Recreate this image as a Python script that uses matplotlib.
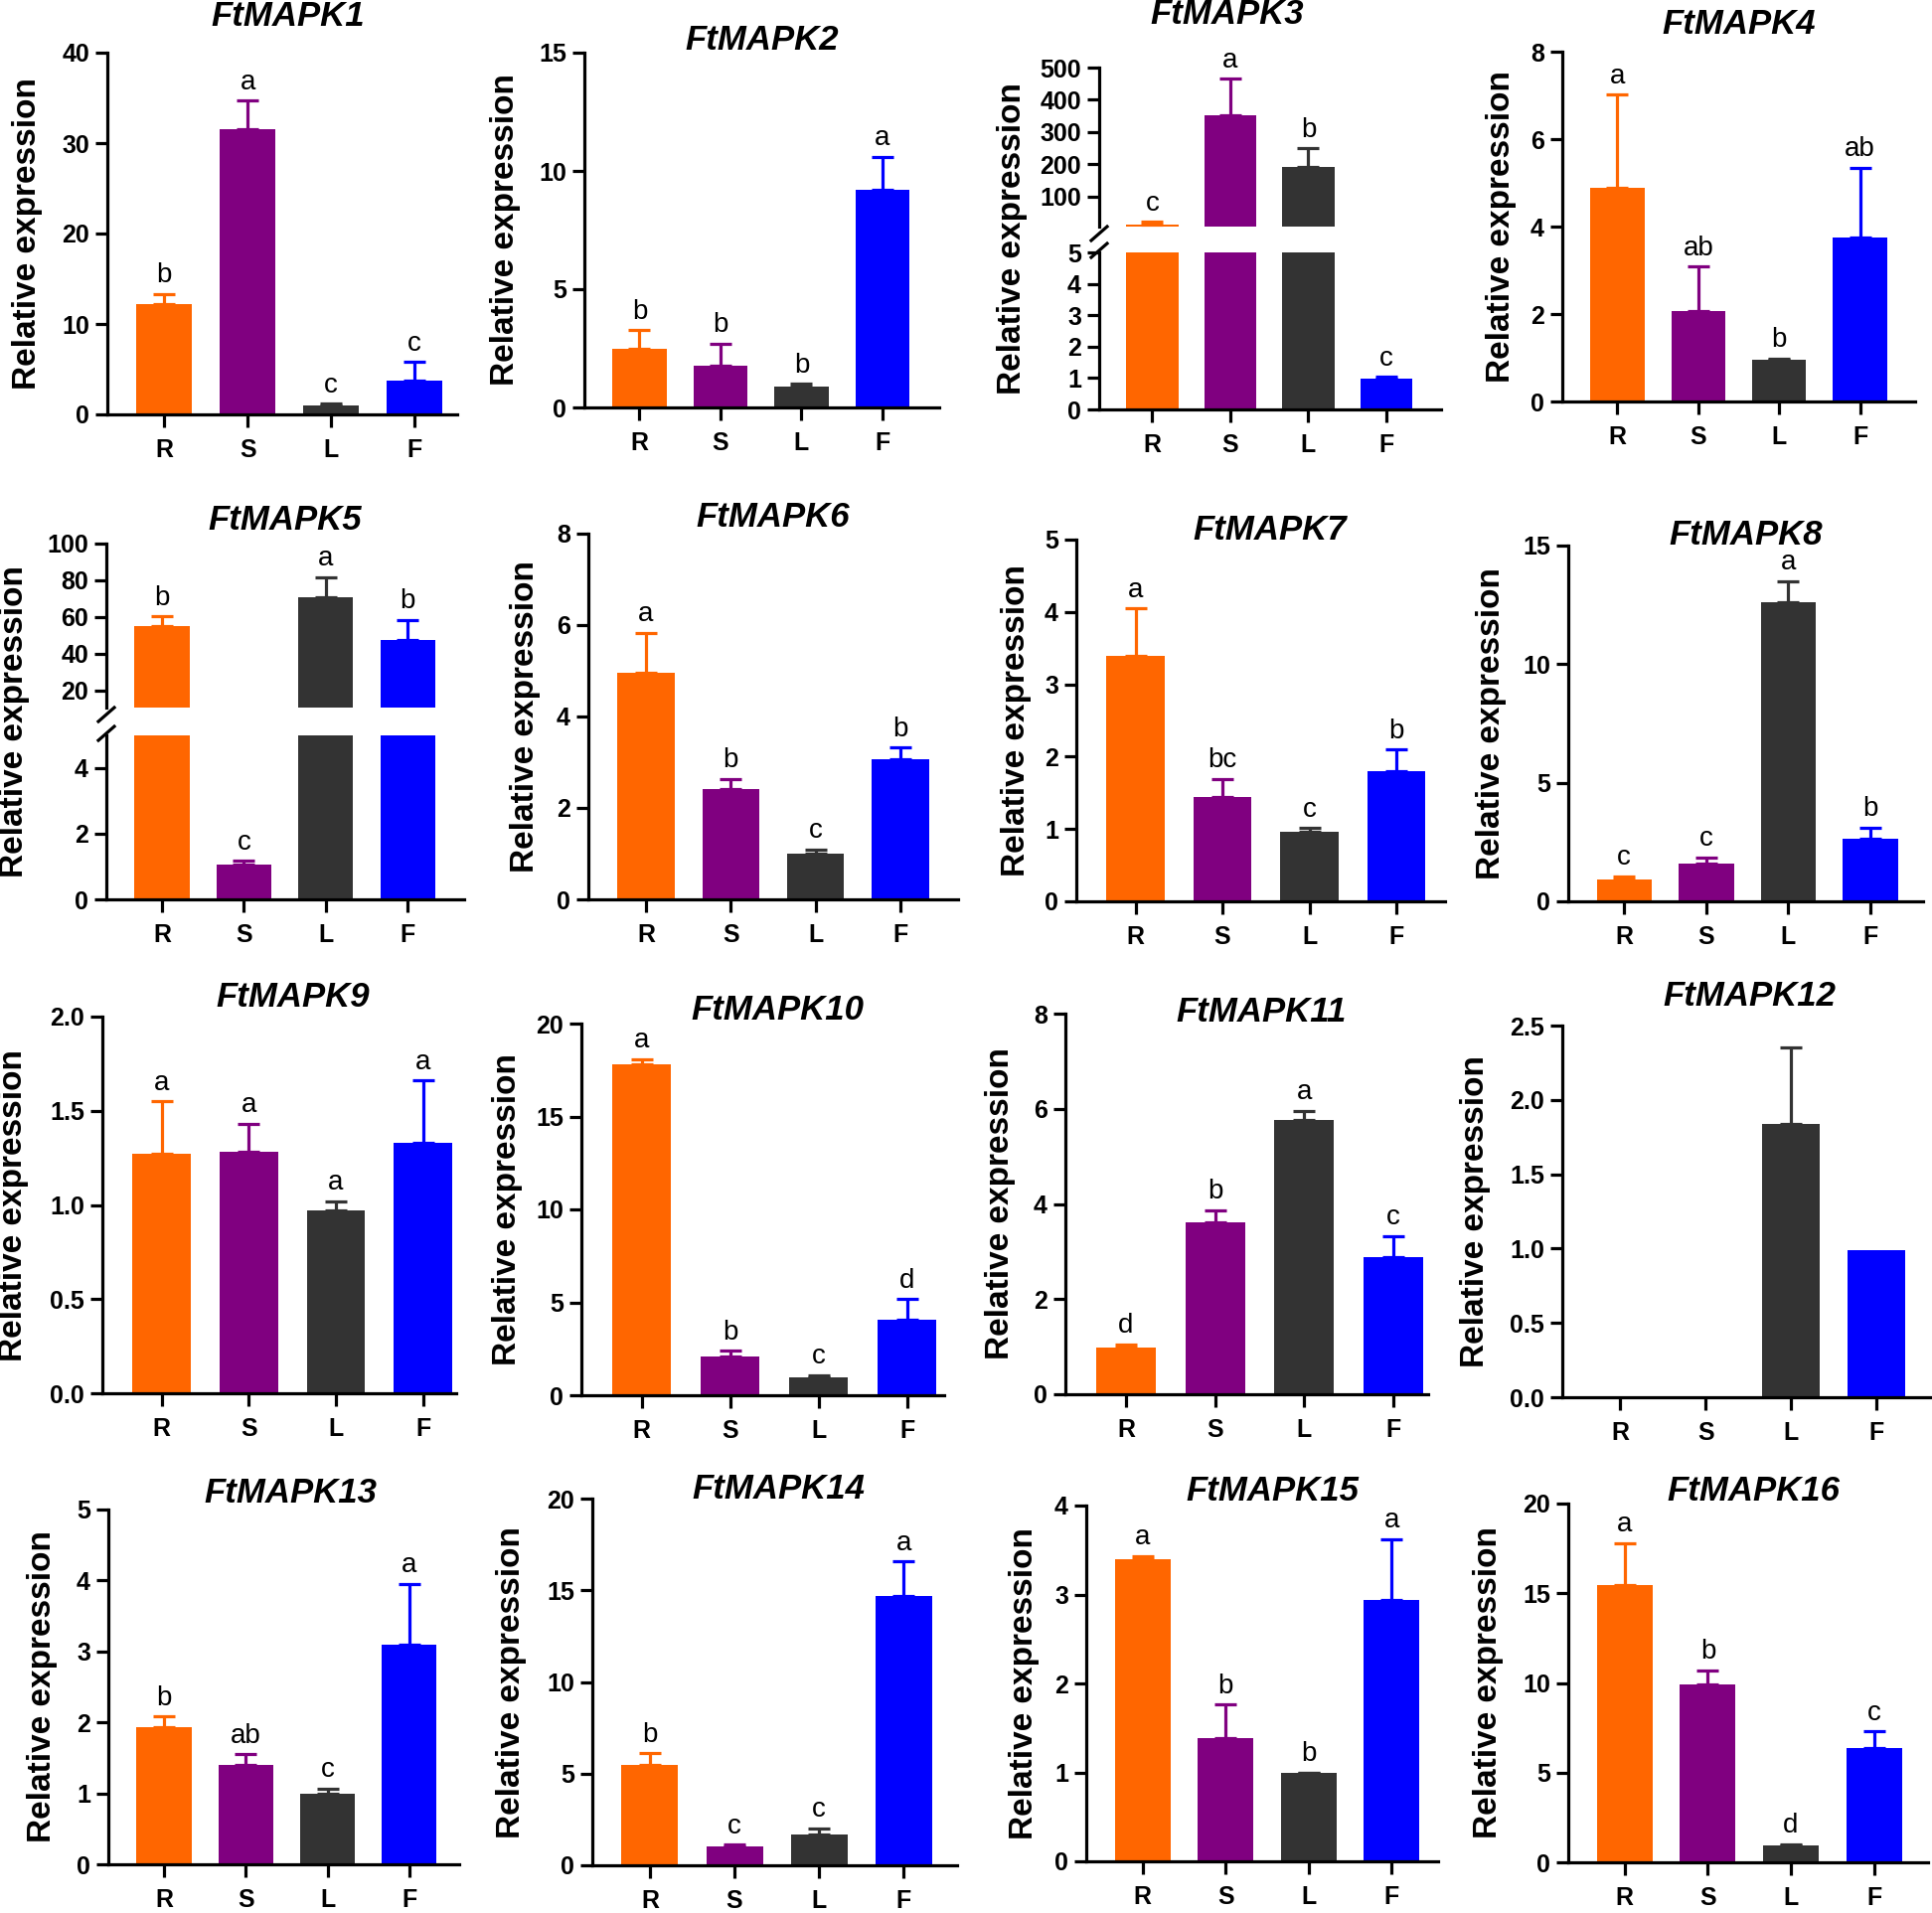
import matplotlib
matplotlib.use('Agg')
import matplotlib.pyplot as plt
import numpy as np

plt.rcParams['font.family'] = ['Liberation Sans', 'DejaVu Sans']
plt.rcParams['font.weight'] = 'bold'

# Datos: expresión relativa en raíz, tallo, hoja y flor
tissues = ['R', 'S', 'L', 'F']
colors = ['#FF6600', '#800080', '#333333', '#0000FF']

genes = ['FtMAPK1', 'FtMAPK2', 'FtMAPK3', 'FtMAPK4',
         'FtMAPK5', 'FtMAPK6', 'FtMAPK7', 'FtMAPK8',
         'FtMAPK9', 'FtMAPK10', 'FtMAPK11', 'FtMAPK12',
         'FtMAPK13', 'FtMAPK14', 'FtMAPK15', 'FtMAPK16']

means = [
    [12.2, 31.5, 1.0, 3.7],
    [2.5, 1.75, 0.9, 9.2],
    [11.0, 351.0, 190.0, 0.99],
    [4.88, 2.06, 0.96, 3.74],
    [55.1, 1.05, 71.0, 47.6],
    [4.96, 2.41, 0.99, 3.06],
    [3.39, 1.44, 0.96, 1.80],
    [0.94, 1.61, 12.6, 2.63],
    [1.27, 1.28, 0.97, 1.33],
    [17.8, 2.09, 0.96, 4.05],
    [0.98, 3.61, 5.77, 2.88],
    [0.0, 0.0, 1.84, 0.99],
    [1.93, 1.40, 0.99, 3.09],
    [5.46, 1.03, 1.68, 14.69],
    [3.40, 1.38, 0.99, 2.94],
    [15.43, 9.93, 0.96, 6.36],
]

errors = [
    [1.1, 3.2, 0.2, 2.1],
    [0.76, 0.95, 0.1, 1.4],
    [10.0, 114.0, 59.0, 0.05],
    [2.14, 1.02, 0.02, 1.6],
    [5.1, 0.12, 10.8, 10.8],
    [0.87, 0.23, 0.1, 0.26],
    [0.66, 0.25, 0.05, 0.30],
    [0.11, 0.25, 0.9, 0.49],
    [0.28, 0.15, 0.05, 0.33],
    [0.3, 0.31, 0.11, 1.12],
    [0.07, 0.26, 0.19, 0.45],
    [0.0, 0.0, 0.51, 0.0],
    [0.15, 0.15, 0.08, 0.86],
    [0.64, 0.09, 0.34, 1.88],
    [0.03, 0.38, 0.01, 0.68],
    [2.37, 0.79, 0.06, 0.94],
]

letters = [
    ['b', 'a', 'c', 'c'],
    ['b', 'b', 'b', 'a'],
    ['c', 'a', 'b', 'c'],
    ['a', 'ab', 'b', 'ab'],
    ['b', 'c', 'a', 'b'],
    ['a', 'b', 'c', 'b'],
    ['a', 'bc', 'c', 'b'],
    ['c', 'c', 'a', 'b'],
    ['a', 'a', 'a', 'a'],
    ['a', 'b', 'c', 'd'],
    ['d', 'b', 'a', 'c'],
    ['', '', '', ''],
    ['b', 'ab', 'c', 'a'],
    ['b', 'c', 'c', 'a'],
    ['a', 'b', 'b', 'a'],
    ['a', 'b', 'd', 'c'],
]

yticks = [
    [0, 10, 20, 30, 40],
    [0, 5, 10, 15],
    None,
    [0, 2, 4, 6, 8],
    None,
    [0, 2, 4, 6, 8],
    [0, 1, 2, 3, 4, 5],
    [0, 5, 10, 15],
    [0.0, 0.5, 1.0, 1.5, 2.0],
    [0, 5, 10, 15, 20],
    [0, 2, 4, 6, 8],
    [0.0, 0.5, 1.0, 1.5, 2.0, 2.5],
    [0, 1, 2, 3, 4, 5],
    [0, 5, 10, 15, 20],
    [0, 1, 2, 3, 4],
    [0, 5, 10, 15, 20],
]

# ejes cortados (FtMAPK3 y FtMAPK5)
broken = {
    2: dict(low=(0, 5), low_ticks=[0, 1, 2, 3, 4, 5],
            high=(6.25, 500), high_ticks=[100, 200, 300, 400, 500]),
    4: dict(low=(0, 5), low_ticks=[0, 2, 4],
            high=(10.6, 100), high_ticks=[20, 40, 60, 80, 100]),
}

# Posiciones en píxeles: (izq, arriba, der, cero)
W, H = 1944, 1925
boxes = [
    (108, 53, 460, 417), (588, 53, 945, 410), (1106, 68, 1450, 412), (1572, 52, 1927, 404),
    (107, 547, 467, 905), (592, 537, 964, 905), (1083, 543, 1454, 907), (1578, 549, 1935, 907),
    (103, 1023, 459, 1402), (585, 1030, 950, 1404), (1072, 1020, 1437, 1403), (1572, 1032, 1943, 1406),
    (109, 1519, 462, 1876), (596, 1508, 963, 1877), (1093, 1515, 1447, 1873), (1578, 1513, 1940, 1874),
]
# cortes: (fondo del tramo alto, tope del tramo bajo)
split_px = {2: (228, 254), 4: (712, 740)}
title_pos = [
    (290, 17), (767, 40), (1235, 15), (1750, 25),
    (287, 523), (778, 520), (1278, 533), (1757, 538),
    (295, 1003), (782, 1017), (1269, 1018), (1760, 1002),
    (292, 1502), (783, 1498), (1280, 1500), (1764, 1500),
]
ylab_off = [80, 80, 88, 62, 92, 64, 60, 78, 89, 75, 66, 87, 66, 81, 63, 81]
xlim_right = [3.51, 3.70, 3.70, 3.68, 3.69, 3.68, 3.56, 3.64,
              3.38, 3.42, 3.39, 3.64, 3.61, 3.63, 3.56, 3.65]

fig = plt.figure(figsize=(W / 100, H / 100), dpi=100)


def add_box(l, t, r, b):
    return fig.add_axes([l / W, 1 - b / H, (r - l) / W, (b - t) / H])


def style(ax, show_x=True):
    ax.spines['top'].set_visible(False)
    ax.spines['right'].set_visible(False)
    ax.spines['left'].set_linewidth(2.3)
    ax.spines['bottom'].set_linewidth(2.3)
    ax.tick_params(axis='y', length=9, width=2.3, labelsize=18, pad=4)
    ax.tick_params(axis='x', length=9, width=2.3, labelsize=18, pad=8)
    if not show_x:
        ax.spines['bottom'].set_visible(False)
        ax.tick_params(axis='x', bottom=False, labelbottom=False)


def draw_bars(ax, m, e, xr, lo=0.0):
    x = np.arange(len(tissues))
    ax.bar(x, m, width=0.67, color=colors)
    for i in range(len(x)):
        # solo la barra de error superior, si cae dentro del tramo
        if e[i] > 0 and m[i] + e[i] > lo:
            ax.errorbar(x[i], m[i], yerr=[[0], [e[i]]], fmt='none', ecolor=colors[i],
                        elinewidth=2.3, capsize=8, capthick=2.3)
    ax.set_xticks(x)
    ax.set_xticklabels(tissues)
    ax.set_xlim(-0.68, xr)


def add_letter(ax, xi, top, txt):
    ax.annotate(txt, (xi, top), xytext=(0, 4), textcoords='offset points',
                ha='center', va='bottom', fontsize=20, fontweight='normal',
                annotation_clip=False)


def break_mark(xp, yp):
    fig.add_artist(plt.Line2D([(xp - 8) / W, (xp + 8) / W],
                              [1 - (yp + 7) / H, 1 - (yp - 7) / H],
                              color='black', lw=2.3))


for k, gene in enumerate(genes):
    l, t, r, b = boxes[k]
    m, e, lets = means[k], errors[k], letters[k]

    if k in broken:
        cfg = broken[k]
        hb, lt = split_px[k]
        ax_hi = add_box(l, t, r, hb)
        ax_lo = add_box(l, lt, r, b)
        for ax, lim, tk, sx in [(ax_hi, cfg['high'], cfg['high_ticks'], False),
                                (ax_lo, cfg['low'], cfg['low_ticks'], True)]:
            draw_bars(ax, m, e, xlim_right[k], lo=lim[0])
            ax.set_ylim(*lim)
            ax.set_yticks(tk)
            style(ax, sx)
        for i, txt in enumerate(lets):
            top = m[i] + e[i]
            add_letter(ax_hi if top > cfg['low'][1] else ax_lo, i, top, txt)
        break_mark(l, hb + 7)
        break_mark(l, lt - 2)
    else:
        ax = add_box(l, t, r, b)
        draw_bars(ax, m, e, xlim_right[k])
        ax.set_ylim(yticks[k][0], yticks[k][-1])
        ax.set_yticks(yticks[k])
        if isinstance(yticks[k][1], float):
            ax.set_yticklabels(['%.1f' % v for v in yticks[k]])
        style(ax)
        for i, txt in enumerate(lets):
            if txt:
                add_letter(ax, i, m[i] + e[i], txt)

    tx, ty = title_pos[k]
    fig.text(tx / W, 1 - ty / H, gene, ha='center', va='center',
             fontsize=25, fontweight='bold', style='italic')
    fig.text((l - ylab_off[k]) / W, 1 - ((t + b) / 2) / H, 'Relative expression',
             rotation=90, ha='center', va='center', fontsize=24, fontweight='bold')

fig.savefig('out.png', dpi=100)
